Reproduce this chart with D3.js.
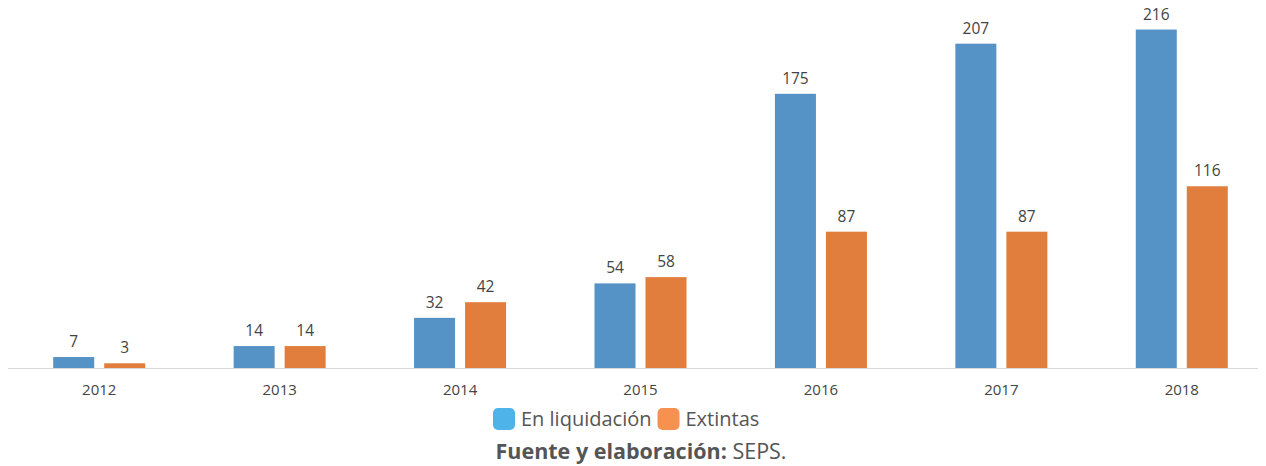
<!DOCTYPE html>
<html>
<head>
<meta charset="UTF-8">
<style>
  body { margin: 0; background: #fff; }
  svg { font-family: "Open Sans", "Noto Sans", sans-serif; }
  .val { font-size: 15.5px; fill: #444; }
  .year { font-size: 15px; fill: #444; }
</style>
</head>
<body>
<svg></svg>
<script src="https://d3js.org/d3.v7.min.js"></script>
<script>
let width = 1266, height = 466;

var years = ["2012", "2013", "2014", "2015", "2016", "2017", "2018"];
var liquidacion = [7, 14, 32, 54, 175, 207, 216];
var extintas = [3, 14, 42, 58, 87, 87, 116];
var seriesNames = ["En liquidación", "Extintas"];
var barColors = ["#5592c6", "#e27e3d"];
var legendColors = ["#4db3e8", "#f7914f"];

let svg = d3.select("svg")
    .attr("width", width)
    .attr("height", height);

var x = d3.scaleBand()
    .domain(years)
    .range([9, 1272]);

var y = d3.scaleLinear()
    .domain([0, 217])
    .range([368, 28]);

var barW = 41, gap = 5;

// axis line
svg.append("line")
    .attr("x1", 8).attr("x2", 1258)
    .attr("y1", y(0) + 0.5).attr("y2", y(0) + 0.5)
    .attr("stroke", "#d9d9d9");

var groups = svg.selectAll(".grp")
    .data(years)
    .enter()
    .append("g")
    .attr("class", "grp")
    .attr("transform", d => "translate(" + (x(d) + x.bandwidth() / 2) + ",0)");

[liquidacion, extintas].forEach(function(vals, s) {
    var off = s == 0 ? -gap - barW : gap;
    groups.append("rect")
        .attr("x", off)
        .attr("width", barW)
        .attr("y", (d, i) => y(vals[i]))
        .attr("height", (d, i) => y(0) - y(vals[i]))
        .attr("fill", barColors[s]);
    groups.append("text")
        .attr("class", "val")
        .attr("x", off + barW / 2)
        .attr("y", (d, i) => y(vals[i]) - 10)
        .attr("text-anchor", "middle")
        .text((d, i) => vals[i]);
});

groups.append("text")
    .attr("class", "year")
    .attr("y", 395)
    .attr("text-anchor", "middle")
    .text(d => d);

// legend
var legend = svg.append("g").attr("transform", "translate(493,408)");
var lx = 0;
seriesNames.forEach(function(name, i) {
    legend.append("rect")
        .attr("x", lx).attr("y", 0)
        .attr("width", 22).attr("height", 22)
        .attr("rx", 5)
        .attr("fill", legendColors[i]);
    var t = legend.append("text")
        .attr("x", lx + 28).attr("y", 18)
        .attr("font-size", 20)
        .attr("fill", "#555")
        .text(name);
    lx += 28 + t.node().getComputedTextLength() + 6;
});

// source
var src = svg.append("text")
    .attr("x", 641)
    .attr("y", 459)
    .attr("text-anchor", "middle")
    .attr("font-size", 21.5)
    .attr("fill", "#555");
src.append("tspan").attr("font-weight", "bold").text("Fuente y elaboración: ");
src.append("tspan").text("SEPS.");
</script>
</body>
</html>
